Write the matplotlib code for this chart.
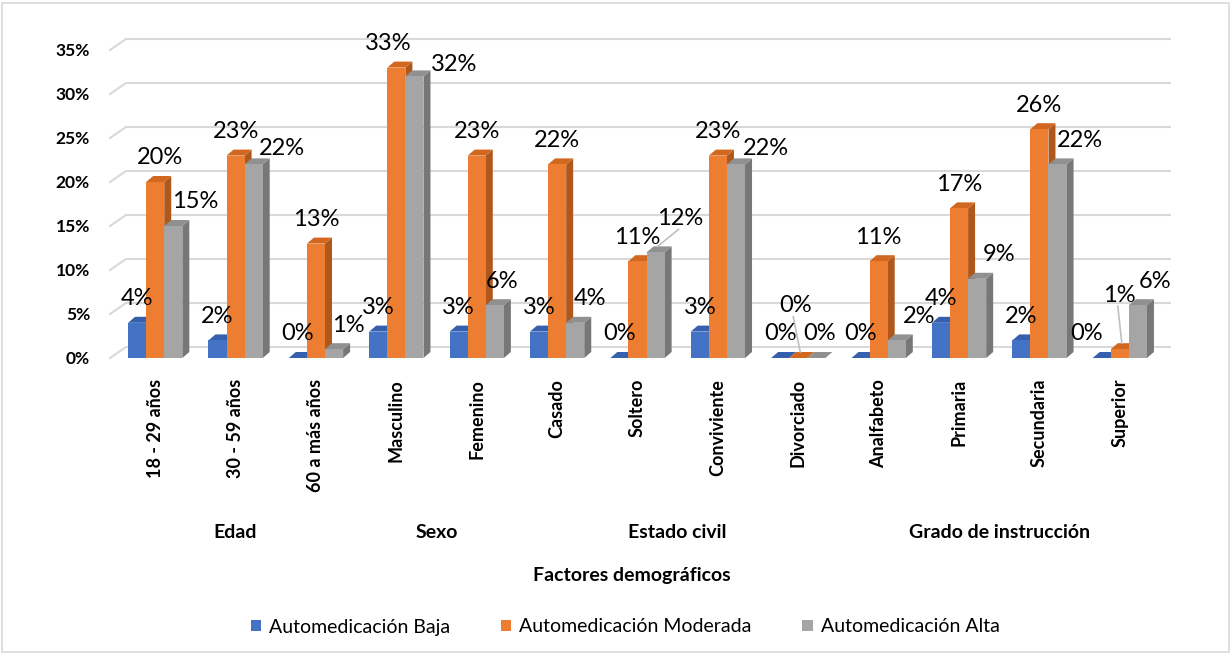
"""Automedicación por factores demográficos: clustered 3D-style column chart."""

import matplotlib
matplotlib.use("Agg")
import matplotlib.pyplot as plt
from matplotlib.patches import Polygon, Rectangle
from matplotlib.transforms import blended_transform_factory

plt.rcParams["font.family"] = ["Lato", "DejaVu Sans"]

# ---- data -------------------------------------------------------------
categories = ["18 - 29 años", "30 - 59 años", "60 a más años",
              "Masculino", "Femenino",
              "Casado", "Soltero", "Conviviente", "Divorciado",
              "Analfabeto", "Primaria", "Secundaria", "Superior"]
groups = ["Edad", "Sexo", "Estado civil", "Grado de instrucción"]
group_sizes = [3, 2, 4, 4]

series_names = ["Automedicación Baja", "Automedicación Moderada", "Automedicación Alta"]
baja = [4, 2, 0, 3, 3, 3, 0, 3, 0, 0, 4, 2, 0]
moderada = [20, 23, 13, 33, 23, 22, 11, 23, 0, 11, 17, 26, 1]
alta = [15, 22, 1, 32, 6, 4, 12, 22, 0, 2, 9, 22, 6]
y_ticks = [0, 5, 10, 15, 20, 25, 30, 35]

# ---- style ------------------------------------------------------------
front = ["#4472C4", "#ED7D31", "#A5A5A5"]
top = ["#3660AE", "#D2671F", "#909090"]
side = ["#2D5191", "#B0581C", "#777777"]
grid_c = "#D9D9D9"

W, H, DPI = 1232, 654, 100
ax_l, ax_r, ax_b, ax_t = 115, 1160, 358, 50     # pixel box of the front plane

fig = plt.figure(figsize=(W / DPI, H / DPI), dpi=DPI)
ax = fig.add_axes([ax_l / W, 1 - ax_b / H, (ax_r - ax_l) / W, (ax_b - ax_t) / H])
ax.set_xlim(-0.5, len(categories) - 0.5)
ax.set_ylim(0, 35)
for s in ax.spines.values():
    s.set_visible(False)

px_x = len(categories) / (ax_r - ax_l)
px_y = 35 / (ax_b - ax_t)

# back-wall gridlines with the left-hand perspective stub
gdx, gdy = 16 * px_x, 11 * px_y
x0 = -0.5 - 5 * px_x
x1 = len(categories) - 0.5 + 10 * px_x
for t in y_ticks:
    ax.plot([x0, x0 + gdx, x1], [t, t + gdy, t + gdy], color=grid_c,
            lw=1.5, clip_on=False, zorder=0)

# 3D bars
bw = 0.225
bdx, bdy = 7 * px_x, 6 * px_y
values = [baja, moderada, alta]
for i in range(len(categories)):
    for k, vals in enumerate(values):
        xl = i + (k - 1) * bw - bw / 2
        h = vals[i]
        ax.add_patch(Polygon([(xl + bw, 0), (xl + bw + bdx, bdy), (xl + bw + bdx, h + bdy),
                              (xl + bw, h)], closed=True, fc=side[k], ec="none",
                             clip_on=False, zorder=2))
        ax.add_patch(Polygon([(xl, h), (xl + bdx, h + bdy), (xl + bw + bdx, h + bdy),
                              (xl + bw, h)], closed=True, fc=top[k], ec="none",
                             clip_on=False, zorder=2))
        ax.add_patch(Rectangle((xl, 0), bw, h, fc=front[k], ec="none",
                               clip_on=False, zorder=2))

# value labels: default offsets in pixels per series, plus a few manual moves
default_dx = [0, 0, 22]
label_moves = {(1, 0): (5, 0), (2, 1): (28, -8), (2, 2): (14, 0), (2, 3): (40, -12),
               (2, 4): (7, 0), (2, 5): (15, 0), (2, 6): (25, 10, True), (2, 7): (30, -8),
               (1, 8): (-3, 28, True), (2, 8): (3, 0), (0, 12): (-15, 0),
               (1, 12): (0, 30, True), (2, 12): (17, 0), (1, 3): (-8, 0)}
for i in range(len(categories)):
    for k, vals in enumerate(values):
        xc = i + (k - 1) * bw
        h = vals[i]
        mv = label_moves.get((k, i), (default_dx[k], 0))
        dx, dy = mv[0], mv[1]
        lx = xc + dx * px_x
        ly = h + (24 + dy) * px_y
        ax.text(lx, ly, f"{h}%", ha="center", va="center", fontsize=17,
                color="black", zorder=5, clip_on=False)
        if len(mv) > 2:
            ax.plot([xc + 2 * px_x, lx - 2 * px_x],
                    [h + bdy, ly - 11 * px_y], color="#BFBFBF", lw=1.2,
                    clip_on=False, zorder=4)

# axes ticks
ax.set_yticks(y_ticks)
ax.set_yticklabels([f"{t}%" for t in y_ticks], fontsize=12.5, fontweight="bold")
ax.set_xticks(range(len(categories)))
ax.set_xticklabels(categories, rotation=90, fontsize=13, fontweight="bold",
                   va="top", ha="center")
ax.tick_params(axis="both", length=0)
ax.tick_params(axis="y", pad=18)
ax.tick_params(axis="x", pad=15)
for lbl in ax.get_xticklabels():
    lbl.set_x(lbl.get_position()[0])

# group labels under the category labels
trans = blended_transform_factory(ax.transData, fig.transFigure)
start = 0
for g, n in zip(groups, group_sizes):
    xm = start + (n - 1) / 2
    ax.text(xm, 1 - 533 / H, g, transform=trans, ha="center", va="center",
            fontsize=14, fontweight="bold")
    start += n
fig.text(632 / W, 1 - 575 / H, "Factores demográficos", ha="center", va="center",
         fontsize=14, fontweight="bold")

# legend
handles = [Rectangle((0, 0), 1, 1, fc=c, ec="none") for c in front]
fig.legend(handles, series_names, loc="center", bbox_to_anchor=(625 / W, 1 - 627 / H),
           ncol=3, frameon=False, fontsize=14, handlelength=0.55, handleheight=0.55,
           handletextpad=0.4, columnspacing=2.6)

# outer chart border
fig.patches.append(Rectangle((2 / W, 2 / H), 1 - 5 / W, 1 - 5 / H,
                             transform=fig.transFigure, fill=False,
                             ec="#D9D9D9", lw=1.2))

fig.savefig("out.png", dpi=DPI)
